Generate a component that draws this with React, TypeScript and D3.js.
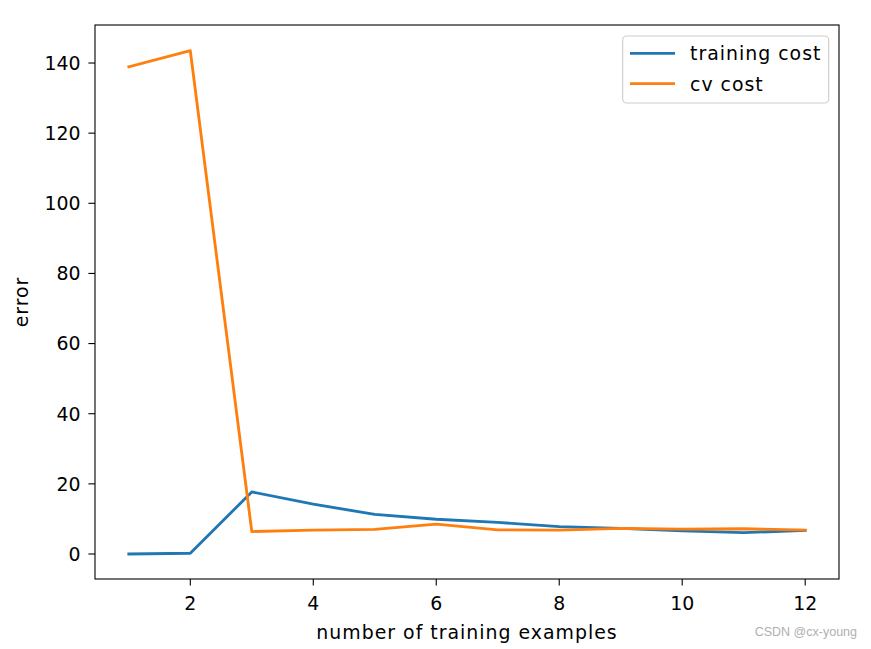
import React from "react";
import * as d3 from "d3";

const examples = [1, 2, 3, 4, 5, 6, 7, 8, 9, 10, 11, 12];
const trainingCost = [0.0, 0.2, 17.7, 14.2, 11.3, 9.9, 9.0, 7.8, 7.3, 6.6, 6.1, 6.7];
const cvCost = [138.9, 143.5, 6.4, 6.8, 7.0, 8.5, 6.9, 6.8, 7.3, 7.1, 7.2, 6.8];
const xTicks = [2, 4, 6, 8, 10, 12];
const yTicks = [0, 20, 40, 60, 80, 100, 120, 140];
const seriesNames = ["training cost", "cv cost"];
const colors = ["#1f77b4", "#ff7f0e"];

const W = 871, H = 649;
const L = 95, R = 839, T = 25, B = 579;
const FONT = "DejaVu Sans, sans-serif";
const FS = 18.9;
const LS = 1;

export default function App() {
  const x = d3.scaleLinear().domain([0.45, 12.55]).range([L, R]);
  const y = d3.scaleLinear().domain([-7.13, 150.84]).range([B, T]);
  const line = d3
    .line<[number, number]>()
    .x((d) => x(d[0]))
    .y((d) => y(d[1]));
  const series = [trainingCost, cvCost].map((vals) =>
    examples.map((e, i) => [e, vals[i]] as [number, number])
  );
  return (
    <svg width={W} height={H} style={{ position: "absolute", left: 0, top: 0 }} fontFamily={FONT}>
      <rect x={0} y={0} width={W} height={H} fill="#fff" />
      {series.map((s, i) => (
        <path key={i} d={line(s) || ""} fill="none" stroke={colors[i]} strokeWidth={2.84} strokeLinejoin="round" strokeLinecap="square" />
      ))}
      <rect x={L} y={T} width={R - L} height={B - T} fill="none" stroke="#000" strokeWidth={1.1} />
      {xTicks.map((t) => (
        <g key={t}>
          <line x1={x(t)} x2={x(t)} y1={B} y2={B + 6.6} stroke="#000" strokeWidth={1.1} />
          <text x={x(t)} y={B + 30.5} textAnchor="middle" fontSize={FS} fill="#000">{t}</text>
        </g>
      ))}
      {yTicks.map((t) => (
        <g key={t}>
          <line x1={L - 6.6} x2={L} y1={y(t)} y2={y(t)} stroke="#000" strokeWidth={1.1} />
          <text x={L - 14.5} y={y(t)} dy="0.36em" textAnchor="end" fontSize={FS} fill="#000">{t}</text>
        </g>
      ))}
      <text x={(L + R) / 2} y={638.5} textAnchor="middle" fontSize={FS} letterSpacing={LS} fill="#000">number of training examples</text>
      <text transform={`translate(28,${(T + B) / 2}) rotate(-90)`} textAnchor="middle" fontSize={FS} letterSpacing={LS} fill="#000">error</text>
      <g>
        <rect x={622.7} y={36} width={206} height={67} rx={4} fill="#fff" fillOpacity={0.8} stroke="#ccc" strokeWidth={1.1} />
        {seriesNames.map((n, i) => (
          <g key={n}>
            <line x1={630} x2={675} y1={53.3 + i * 30.4} y2={53.3 + i * 30.4} stroke={colors[i]} strokeWidth={2.84} />
            <text x={690} y={53.3 + i * 30.4} dy="0.36em" fontSize={FS} letterSpacing={LS} fill="#000">{n}</text>
          </g>
        ))}
      </g>
      <text x={857} y={636} textAnchor="end" fontSize={12.5} fill="#b0b0b0" fontFamily="Liberation Sans, Arial, sans-serif">CSDN @cx-young</text>
    </svg>
  );
}
